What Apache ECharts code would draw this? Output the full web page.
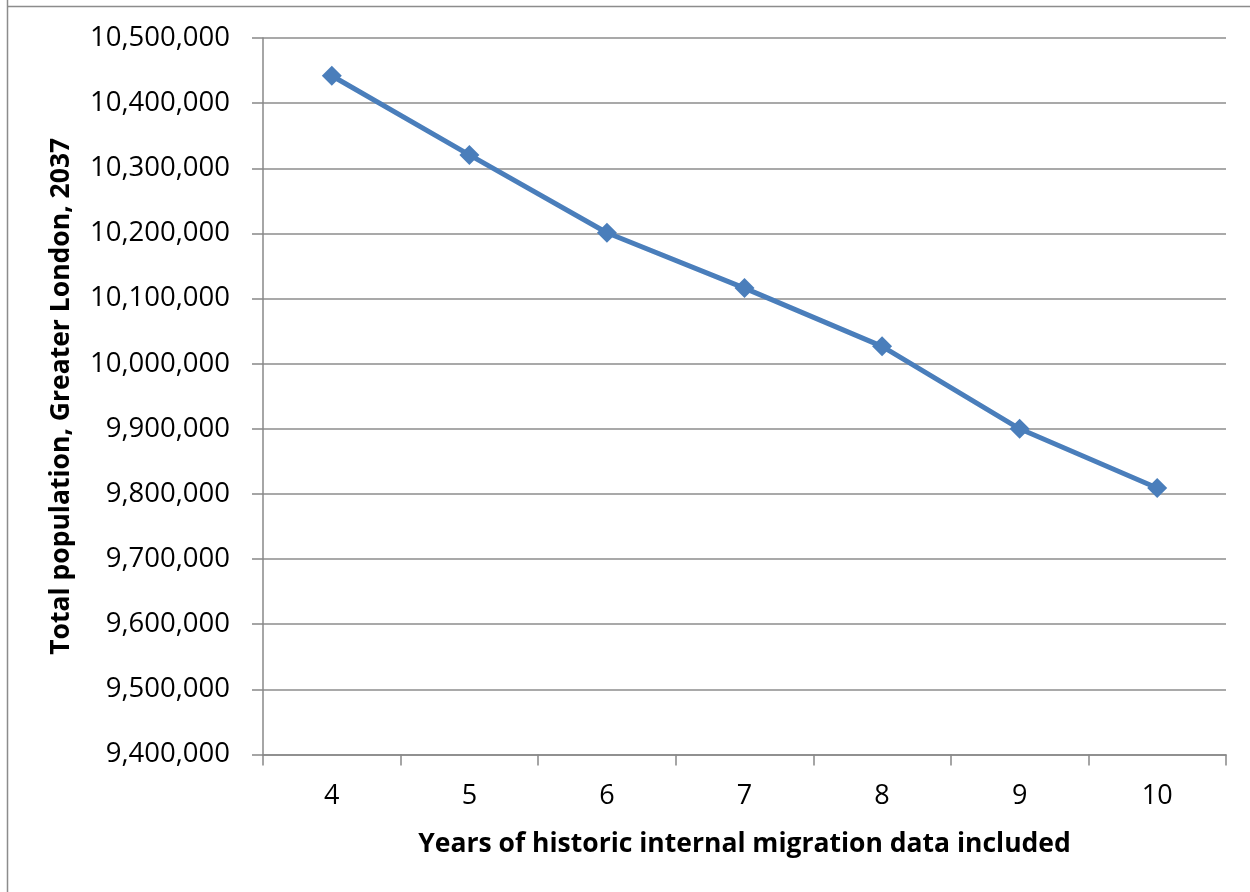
<!DOCTYPE html>
<html>
<head>
<meta charset="utf-8">
<script src="https://cdn.jsdelivr.net/npm/echarts@6/dist/echarts.min.js"></script>
<style>
html,body{margin:0;padding:0;background:#fff;}
#c{width:1250px;height:892px;}
</style>
</head>
<body>
<div id="c"></div>
<script>
var categories = ['4', '5', '6', '7', '8', '9', '10'];
var population = [10442000, 10320500, 10201000, 10116000, 10026600, 9900000, 9809200];
var yTicks = { min: 9400000, max: 10500000, interval: 100000 };
var xTitle = 'Years of historic internal migration data included';
var yTitle = 'Total population, Greater London, 2037';

var chart = echarts.init(document.getElementById('c'));
var font = '"Open Sans", "Noto Sans", sans-serif';
chart.setOption({
  animation: false,
  graphic: [
    { type: 'line', shape: { x1: 7.5, y1: 0, x2: 7.5, y2: 892 }, style: { stroke: '#8c8c8c', lineWidth: 1.5 } },
    { type: 'line', shape: { x1: 7, y1: 6.5, x2: 1250, y2: 6.5 }, style: { stroke: '#8c8c8c', lineWidth: 1.5 } }
  ],
  grid: { left: 263, right: 24, top: 38, bottom: 137.5, containLabel: false },
  xAxis: {
    type: 'category',
    data: categories,
    boundaryGap: true,
    name: xTitle,
    nameLocation: 'middle',
    nameGap: 76,
    nameTextStyle: { fontFamily: font, fontWeight: 'bold', fontSize: 26.5, color: '#000' },
    axisLine: { lineStyle: { color: '#888', width: 1.5 } },
    axisTick: { show: true, length: 11, alignWithLabel: false, lineStyle: { color: '#888', width: 1.5 } },
    axisLabel: { fontFamily: font, fontSize: 27, color: '#000', margin: 28 },
    splitLine: { show: false }
  },
  yAxis: {
    type: 'value',
    min: yTicks.min,
    max: yTicks.max,
    interval: yTicks.interval,
    name: yTitle,
    nameLocation: 'middle',
    nameGap: 188,
    nameTextStyle: { fontFamily: font, fontWeight: 'bold', fontSize: 26.5, color: '#000' },
    axisLine: { show: true, lineStyle: { color: '#888', width: 1.5 } },
    axisTick: { show: true, length: 11, lineStyle: { color: '#888', width: 1.5 } },
    axisLabel: {
      fontFamily: font, fontSize: 27.5, color: '#000', margin: 33,
      formatter: function (v) { return v.toLocaleString('en-US'); }
    },
    splitLine: { show: true, lineStyle: { color: '#8c8c8c', width: 1.5 } }
  },
  series: [{
    type: 'line',
    data: population,
    symbol: 'diamond',
    symbolSize: 20,
    lineStyle: { color: '#4a7ebb', width: 5 },
    itemStyle: { color: '#4a7ebb' }
  }]
});
</script>
</body>
</html>
